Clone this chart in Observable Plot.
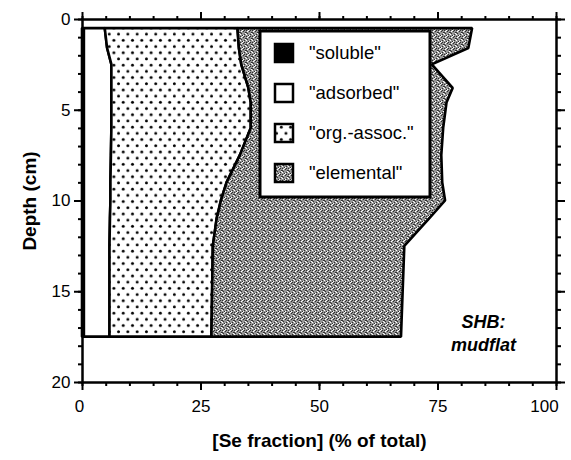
<!DOCTYPE html>
<html><head><meta charset="utf-8">
<script src="https://cdn.jsdelivr.net/npm/d3@7"></script>
<script src="https://cdn.jsdelivr.net/npm/@observablehq/plot@0.6"></script>
<style>
body{margin:0;background:#fff;}
#chart{position:relative;width:571px;height:460px;}
</style></head><body><div id="chart"></div>
<script>
// Depth (cm) of each sampled layer
const depths    = [0.5, 1.6, 2.5, 3.8, 4.6, 6, 7.5, 9, 10, 11, 12.5, 17.5];
// Se fractions (% of total) at each depth
const soluble   = [0.4, 0.4, 0.4, 0.4, 0.4, 0.4, 0.4, 0.4, 0.4, 0.4, 0.4, 0.4];
const adsorbed  = [4.4, 4.9, 5.8, 5.8, 5.8, 5.8, 5.7, 5.6, 5.6, 5.5, 5.4, 5.4];
const orgAssoc  = [28.0, 27.8, 27.4, 28.9, 29.4, 29.4, 27.2, 24.5, 23.3, 22.5, 21.8, 21.5];
const elemental = [49.5, 48.4, 40.2, 43.1, 41.3, 40.6, 42.5, 45.5, 47.3, 44.8, 40.4, 40.0];
const fractions = ["soluble", "adsorbed", "org.-assoc.", "elemental"];
const fills = ["black", "white", "url(#dots)", "url(#stipple)"];
const xTicks = [0, 25, 50, 75, 100];
const xMinor = d3.range(0, 101, 5);
const yTicks = [0, 5, 10, 15, 20];
const yMinor = d3.range(0, 21, 1);

const series = [soluble, adsorbed, orgAssoc, elemental];
const rows = [];
fractions.forEach((f, i) => depths.forEach((d, j) => rows.push({depth: d, fraction: f, value: series[i][j]})));

const blank = () => "";
const plot = Plot.plot({
  width: 571, height: 460,
  marginLeft: 82, marginRight: 15, marginTop: 19, marginBottom: 78,
  style: {fontFamily: "'Liberation Sans', Arial, sans-serif", fontSize: "17px", background: "white", color: "black"},
  x: {domain: [0, 100], label: null},
  y: {domain: [0, 20], reverse: true, label: null},
  color: {domain: fractions, range: fills},
  marks: [
    Plot.areaX(rows, Plot.stackX({y: "depth", x: "value", z: "fraction", fill: "fraction", order: fractions,
      stroke: "black", strokeWidth: 2.6, strokeLinejoin: "miter"})),
    Plot.frame({strokeWidth: 2.5}),
    Plot.axisX(xTicks, {anchor: "bottom", tickSize: 8, strokeWidth: 2, tickFormat: blank, label: null}),
    Plot.axisX(xTicks.slice(1, 4), {anchor: "bottom", tickSize: 0, tickPadding: 17, label: null, fontSize: 17}),
    Plot.axisX(xTicks.slice(0, 1), {anchor: "bottom", tickSize: 0, tickPadding: 17, label: null, fontSize: 17, dx: -3}),
    Plot.axisX(xTicks.slice(4), {anchor: "bottom", tickSize: 0, tickPadding: 17, label: null, fontSize: 17, dx: -12}),
    Plot.axisX(xMinor, {anchor: "bottom", tickSize: 4, strokeWidth: 2, tickFormat: blank, label: null}),
    Plot.axisX(xTicks, {anchor: "top", tickSize: 8, strokeWidth: 2, tickFormat: blank, label: null}),
    Plot.axisX(xMinor, {anchor: "top", tickSize: 4, strokeWidth: 2, tickFormat: blank, label: null}),
    Plot.axisY(yTicks, {anchor: "left", tickSize: 8, tickPadding: 4, strokeWidth: 2, label: null, fontSize: 17}),
    Plot.axisY(yMinor, {anchor: "left", tickSize: 4, strokeWidth: 2, tickFormat: blank, label: null}),
    Plot.axisY(yTicks, {anchor: "right", tickSize: 8, strokeWidth: 2, tickFormat: blank, label: null}),
    Plot.axisY(yMinor, {anchor: "right", tickSize: 4, strokeWidth: 2, tickFormat: blank, label: null}),
    Plot.text(["[Se fraction] (% of total)"], {frameAnchor: "bottom", dy: 58, fontWeight: "bold", fontSize: 19, lineAnchor: "middle"}),
    Plot.text(["Depth (cm)"], {frameAnchor: "left", dx: -53, rotate: -90, fontWeight: "bold", fontSize: 19, textAnchor: "middle", lineAnchor: "middle"}),
    Plot.text(["SHB:\nmudflat"], {frameAnchor: "bottom-right", dx: -73, dy: -50, textAnchor: "middle", lineAnchor: "middle",
      fontWeight: "bold", fontStyle: "italic", fontSize: 18, lineHeight: 1.25})
  ]
});

const svg = d3.select(plot);
const defs = svg.insert("defs", ":first-child");
const dots = defs.append("pattern").attr("id", "dots").attr("patternUnits", "userSpaceOnUse")
  .attr("width", 9.3).attr("height", 12.4);
dots.append("rect").attr("width", 9.3).attr("height", 12.4).attr("fill", "white");
dots.append("circle").attr("cx", 2.3).attr("cy", 3.1).attr("r", 1.45).attr("fill", "black");
dots.append("circle").attr("cx", 6.95).attr("cy", 9.3).attr("r", 1.45).attr("fill", "black");
const st = defs.append("pattern").attr("id", "stipple").attr("patternUnits", "userSpaceOnUse")
  .attr("width", 6).attr("height", 6);
st.append("rect").attr("width", 6).attr("height", 6).attr("fill", "#959595");
[[0,0],[3,1],[1,3],[4,4],[2,5],[5,2],[4,0],[0,2]].forEach(([x,y]) => st.append("rect").attr("x", x).attr("y", y).attr("width", 1).attr("height", 1).attr("fill", "#303030"));
[[2,0],[5,3],[0,4],[3,5],[1,1]].forEach(([x,y]) => st.append("rect").attr("x", x).attr("y", y).attr("width", 1).attr("height", 1).attr("fill", "#ffffff"));

// Legend inside the plot area
const lg = svg.append("g").attr("font-family", "'Liberation Sans', Arial, sans-serif").attr("font-size", 18.5)
  .attr("text-anchor", "start");
lg.append("rect").attr("x", 260).attr("y", 31).attr("width", 170).attr("height", 166)
  .attr("fill", "white").attr("stroke", "black").attr("stroke-width", 3);
const rowY = [53, 93, 133, 173];
fractions.forEach((f, i) => {
  lg.append("rect").attr("x", 275).attr("y", rowY[i] - 9).attr("width", 18).attr("height", 18)
    .attr("fill", fills[i]).attr("stroke", "black").attr("stroke-width", 2.5);
  lg.append("text").attr("x", 309).attr("y", rowY[i]).attr("dy", "0.35em").attr("text-anchor", "start").text(`"${f}"`);
});

document.getElementById("chart").append(plot);
</script></body></html>
